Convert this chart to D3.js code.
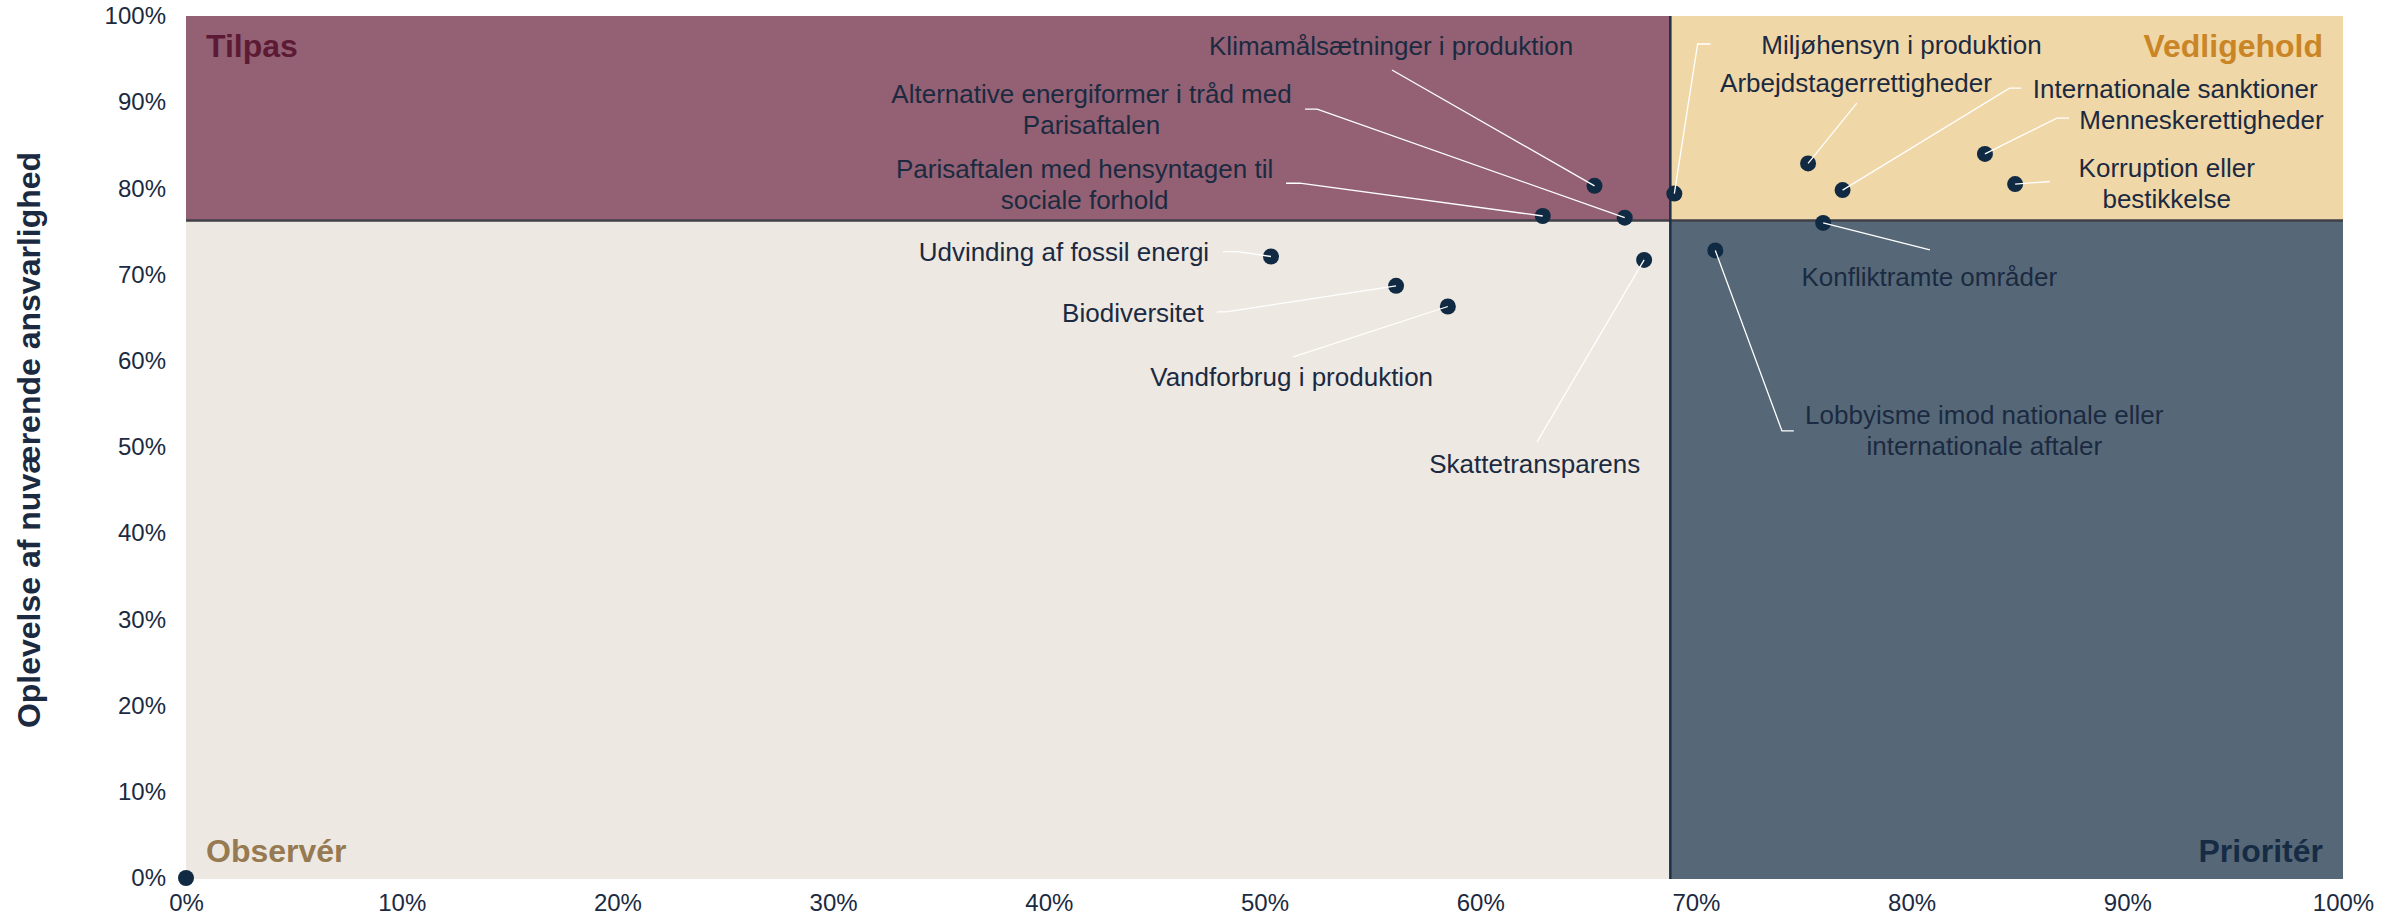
<!DOCTYPE html>
<html>
<head>
<meta charset="utf-8">
<script src="https://cdn.jsdelivr.net/npm/d3@7"></script>
<style>
  body { margin: 0; background: #fff; }
  svg { display: block; font-family: "Liberation Sans", Arial, sans-serif; }
</style>
</head>
<body>
<div id="chart"></div>
<script>
// Emner og scorer (x: vigtighed, y: oplevelse af nuværende ansvarlighed)
const topics = [
  "Klimamålsætninger i produktion",
  "Alternative energiformer i tråd med Parisaftalen",
  "Parisaftalen med hensyntagen til sociale forhold",
  "Miljøhensyn i produktion",
  "Arbejdstagerrettigheder",
  "Internationale sanktioner",
  "Menneskerettigheder",
  "Korruption eller bestikkelse",
  "Konfliktramte områder",
  "Lobbyisme imod nationale eller internationale aftaler",
  "Skattetransparens",
  "Udvinding af fossil energi",
  "Biodiversitet",
  "Vandforbrug i produktion"
];
const importance     = [0.653, 0.667, 0.629, 0.690, 0.752, 0.768, 0.834, 0.848, 0.759, 0.709, 0.676, 0.503, 0.561, 0.585];
const responsibility = [0.803, 0.766, 0.768, 0.794, 0.829, 0.798, 0.840, 0.805, 0.760, 0.728, 0.717, 0.721, 0.687, 0.663];

// ekstra punkt uden label i hjørnet
const extraPoint = [0, 0];

// label tekst (linjer)
const labelLines = [
  ["Klimamålsætninger i produktion"],
  ["Alternative energiformer i tråd med", "Parisaftalen"],
  ["Parisaftalen med hensyntagen til", "sociale forhold"],
  ["Miljøhensyn i produktion"],
  ["Arbejdstagerrettigheder"],
  ["Internationale sanktioner"],
  ["Menneskerettigheder"],
  ["Korruption eller", "bestikkelse"],
  ["Konfliktramte områder"],
  ["Lobbyisme imod nationale eller", "internationale aftaler"],
  ["Skattetransparens"],
  ["Udvinding af fossil energi"],
  ["Biodiversitet"],
  ["Vandforbrug i produktion"]
];
// label placering (i data-enheder)
const labelX = [0.5587, 0.4198, 0.4166, 0.7953, 0.7742, 0.9222, 0.9344, 0.9183, 0.8082, 0.8337, 0.6253, 0.4070, 0.4390, 0.5126];
const labelY = [0.9657, 0.8911, 0.8044, 0.9668, 0.9222, 0.9153, 0.8796, 0.8059, 0.6975, 0.5190, 0.4808, 0.7259, 0.6558, 0.5814];
// knæk-punkter på leader lines (fra punktet og ud)
const leaders = [
  [[0.5591, 0.9373]],
  [[0.5244, 0.8920], [0.5188, 0.8920]],
  [[0.5164, 0.8060], [0.5100, 0.8060]],
  [[0.7008, 0.9675], [0.7068, 0.9675]],
  [[0.7746, 0.8989]],
  [[0.8454, 0.9163], [0.8507, 0.9163]],
  [[0.8674, 0.8815], [0.8730, 0.8815]],
  [[0.8641, 0.8080]],
  [[0.8085, 0.7286]],
  [[0.7399, 0.5187], [0.7454, 0.5187]],
  [[0.6263, 0.5057]],
  [[0.4875, 0.7266], [0.4807, 0.7266]],
  [[0.4821, 0.6568], [0.4779, 0.6568]],
  [[0.5133, 0.6046]]
];

const tickValues = d3.range(0, 1.01, 0.1);
const quadrantNames = ["Tilpas", "Vedligehold", "Observér", "Prioritér"];
const yTitle = "Oplevelse af nuværende ansvarlighed";

function chart() {
  const width = 2397;
  const height = 919;
  const textColor = "#1b2a41";

  const x = d3.scaleLinear().domain([0, 1]).range([186, 2343]);
  const y = d3.scaleLinear().domain([0, 1]).range([878, 16]);

  // skillelinjer = gennemsnit af emnerne
  const xSplit = d3.mean(importance);
  const ySplit = d3.mean(responsibility);

  const svg = d3.create("svg")
      .attr("width", width)
      .attr("height", height)
      .attr("viewBox", [0, 0, width, height]);

  // kvadranter
  const quads = [
    {x0: 0, x1: xSplit, y0: ySplit, y1: 1, fill: "#936173"},
    {x0: xSplit, x1: 1, y0: ySplit, y1: 1, fill: "#f0d7a7"},
    {x0: 0, x1: xSplit, y0: 0, y1: ySplit, fill: "#ede8e1"},
    {x0: xSplit, x1: 1, y0: 0, y1: ySplit, fill: "#566877"}
  ];
  svg.append("g")
    .selectAll("rect")
    .data(quads)
    .join("rect")
      .attr("x", d => x(d.x0))
      .attr("y", d => y(d.y1))
      .attr("width", d => x(d.x1) - x(d.x0))
      .attr("height", d => y(d.y0) - y(d.y1) + (d.y0 === 0 ? 1 : 0))
      .attr("fill", d => d.fill);

  // skillelinjer
  svg.append("line")
      .attr("x1", x(0)).attr("x2", x(1))
      .attr("y1", y(ySplit)).attr("y2", y(ySplit))
      .attr("stroke", "#404048")
      .attr("stroke-width", 2.7);
  svg.append("line")
      .attr("x1", x(xSplit)).attr("x2", x(xSplit))
      .attr("y1", y(1)).attr("y2", y(0) + 1)
      .attr("stroke", "#1c3048")
      .attr("stroke-width", 2.5);

  // akser
  const xAxis = svg.append("g")
      .attr("transform", `translate(0,${y(0)})`)
      .call(d3.axisBottom(x).tickValues(tickValues).tickFormat(d3.format(".0%")).tickSize(0).tickPadding(16));
  const yAxis = svg.append("g")
      .attr("transform", `translate(${x(0)},0)`)
      .call(d3.axisLeft(y).tickValues(tickValues).tickFormat(d3.format(".0%")).tickSize(0).tickPadding(20));
  for (const ax of [xAxis, yAxis]) {
    ax.select(".domain").remove();
    ax.selectAll("text")
        .attr("fill", textColor)
        .style("font-size", "24px")
        .style("font-family", '"Liberation Sans", Arial, sans-serif');
  }

  svg.append("text")
      .attr("transform", `translate(29,440) rotate(-90)`)
      .attr("text-anchor", "middle")
      .attr("dominant-baseline", "central")
      .attr("fill", textColor)
      .style("font-size", "32px")
      .style("font-weight", "bold")
      .text(yTitle);

  // kvadrant-navne
  const qLabels = [
    {x: x(0) + 20, y: y(1) + 41, anchor: "start", color: "#5c1a34"},
    {x: x(1) - 20, y: y(1) + 41, anchor: "end", color: "#c98526"},
    {x: x(0) + 20, y: y(0) - 16, anchor: "start", color: "#967a52"},
    {x: x(1) - 20, y: y(0) - 16, anchor: "end", color: "#162c44"}
  ];
  svg.append("g")
    .selectAll("text")
    .data(qLabels)
    .join("text")
      .attr("x", d => d.x)
      .attr("y", d => d.y)
      .attr("text-anchor", d => d.anchor)
      .attr("fill", d => d.color)
      .style("font-size", "32px")
      .style("font-weight", "bold")
      .text((d, i) => quadrantNames[i]);

  // punkter
  const points = topics.map((t, i) => ({topic: t, x: importance[i], y: responsibility[i], i}));
  svg.append("g")
    .selectAll("circle")
    .data([...points, {x: extraPoint[0], y: extraPoint[1]}])
    .join("circle")
      .attr("cx", d => x(d.x))
      .attr("cy", d => y(d.y))
      .attr("r", 8)
      .attr("fill", "#0f2a42");

  // leader lines
  const line = d3.line().x(d => x(d[0])).y(d => y(d[1]));
  svg.append("g")
      .attr("fill", "none")
      .attr("stroke", "#ffffff")
      .attr("stroke-width", 1.3)
    .selectAll("path")
    .data(points)
    .join("path")
      .attr("d", d => line([[d.x, d.y], ...leaders[d.i]]));

  // labels
  const lh = 31;
  const lbl = svg.append("g")
    .selectAll("text")
    .data(points)
    .join("text")
      .attr("text-anchor", "middle")
      .attr("fill", textColor)
      .style("font-size", "26px");
  lbl.each(function (d) {
    const lines = labelLines[d.i];
    const t = d3.select(this);
    lines.forEach((s, k) => {
      t.append("tspan")
          .attr("x", x(labelX[d.i]))
          .attr("y", y(labelY[d.i]) + (k - (lines.length - 1) / 2) * lh)
          .attr("dy", "0.35em")
          .text(s);
    });
  });

  return svg.node();
}

document.getElementById("chart").appendChild(chart());
</script>
</body>
</html>
